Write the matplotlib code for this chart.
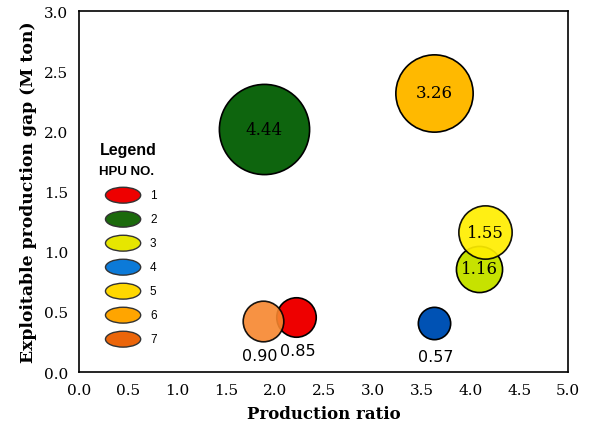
import matplotlib
matplotlib.use("Agg")
import matplotlib.pyplot as plt
from matplotlib.patches import Ellipse
import numpy as np

# bubble data
ratio = [1.89, 3.63, 4.15, 4.09, 3.63, 2.22, 1.88]
gap = [2.02, 2.32, 1.16, 0.86, 0.41, 0.46, 0.42]
size = [4.44, 3.26, 1.55, 1.16, 0.57, 0.85, 0.90]
colors = ['#0E650E', '#FFB900', '#FFEE00', '#C6E200', '#0052B4', '#EE0000', '#F7862E']
alphas = [1, 1, 0.92, 1, 1, 1, 0.9]
inside = [True, True, True, True, False, False, False]

# legend data
hpu = ['1', '2', '3', '4', '5', '6', '7']
hpu_colors = ['#EE0000', '#1B6A0C', '#E6E600', '#0C7AD8', '#FFD800', '#FFA500', '#EB650A']

fig = plt.figure(figsize=(5.9, 4.35), dpi=100)
ax = fig.add_axes([0.134, 0.1425, 0.829, 0.8295])

order = [0, 1, 3, 2, 4, 5, 6]
for i in order:
    ax.scatter(ratio[i], gap[i], s=950 * size[i], color=colors[i], alpha=alphas[i],
               edgecolor='black', linewidth=1.2, zorder=3)
    if inside[i]:
        ax.text(ratio[i], gap[i], '%.2f' % size[i], ha='center', va='center',
                fontsize=12, family='DejaVu Serif', zorder=4)
    else:
        ax.text(ratio[i] - 0.03 if size[i] > 0.87 else ratio[i] + 0.02, gap[i] - 0.22,
                '%.2f' % size[i], ha='center', va='top', fontsize=11.5,
                family='DejaVu Sans', zorder=4)

ax.set_xlim(0, 5)
ax.set_ylim(0, 3)
ax.set_xticks(np.arange(0, 5.01, 0.5))
ax.set_yticks(np.arange(0, 3.01, 0.5))
ax.set_xticklabels(['%.1f' % v for v in np.arange(0, 5.01, 0.5)], family='DejaVu Serif', fontsize=11)
ax.set_yticklabels(['%.1f' % v for v in np.arange(0, 3.01, 0.5)], family='DejaVu Serif', fontsize=11)
ax.tick_params(length=0, pad=8)
ax.set_xlabel('Production ratio', family='DejaVu Serif', fontweight='bold', fontsize=12, labelpad=6)
ax.set_ylabel('Exploitable production gap (M ton)', family='DejaVu Serif', fontweight='bold',
              fontsize=12.4, labelpad=5)
for sp in ax.spines.values():
    sp.set_linewidth(1.2)

# hand-made legend
ax.text(0.043, 0.618, 'Legend', transform=ax.transAxes, fontsize=11.5, fontweight='bold',
        family='Liberation Sans', va='center')
ax.text(0.040, 0.558, 'HPU NO.', transform=ax.transAxes, fontsize=9.5, fontweight='bold',
        family='Liberation Sans', va='center')
for k in range(len(hpu)):
    yy = 0.490 - k * 0.0665
    ax.add_patch(Ellipse((0.090, yy), 0.072, 0.044, transform=ax.transAxes,
                         facecolor=hpu_colors[k], edgecolor='#333333', linewidth=1, zorder=3))
    ax.text(0.145, yy, hpu[k], transform=ax.transAxes, fontsize=8.5,
            family='Liberation Sans', va='center')

fig.savefig('out.png', dpi=100)
